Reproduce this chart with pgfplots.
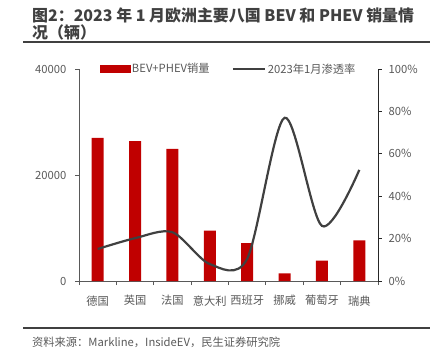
\documentclass[border=0pt]{standalone}
\usepackage{pgfplots}
\pgfplotsset{compat=1.18}
\usepackage{fontspec}
\setmainfont{Noto Sans CJK SC}
\definecolor{barred}{HTML}{C00000}
\definecolor{linegray}{HTML}{404040}
\definecolor{txtgray}{HTML}{595959}
\begin{document}
\begin{tikzpicture}
\useasboundingbox (0bp,0bp) rectangle (436bp,-351bp);
\node[anchor=base west, font=\fontsize{16}{18}\selectfont\bfseries, text=linegray, inner sep=0] at (32bp,-21bp) {图2：2023 年 1 月欧洲主要八国 BEV 和 PHEV 销量情};
\node[anchor=base west, font=\fontsize{16}{18}\selectfont\bfseries, text=linegray, inner sep=0] at (32bp,-38bp) {况（辆）};
\draw[linegray, line width=1.2bp] (23bp,-42bp) -- (430bp,-42bp);
\draw[linegray, line width=1.2bp] (23bp,-328bp) -- (430bp,-328bp);
\node[anchor=west, font=\fontsize{11.3}{13}\selectfont, text=txtgray, inner sep=0] at (32bp,-342bp) {资料来源：Markline，InsideEV，民生证券研究院};

\begin{axis}[at={(79bp,-281bp)}, anchor=south west, scale only axis,
  width=299bp, height=212bp,
  xmin=-0.5, xmax=7.5, ymin=0, ymax=40000,
  axis x line*=bottom, axis y line*=left,
  axis line style={txtgray, line width=0.8bp},
  xtick={0,...,7},
  xticklabels={德国,英国,法国,意大利,西班牙,挪威,葡萄牙,瑞典},
  minor xtick={-0.5,0.5,...,7.5},
  major x tick style={draw=none},
  minor tick style={txtgray, line width=0.8bp},
  ytick={0,20000,40000},
  ytick style={txtgray, line width=0.8bp},
  tick align=outside, major tick length=4bp, minor tick length=4bp,
  scaled y ticks=false,
  /pgf/number format/assume math mode=true,
  /pgf/number format/set thousands separator={},
  ticklabel style={font=\fontsize{11.3}{13}\selectfont, text=txtgray},
  xticklabel style={yshift=-7bp},
  yticklabel style={xshift=-5bp},
  clip=false]
\addplot[ybar, bar width=12bp, fill=barred, draw=none] coordinates {
(0,27000) (1,26400) (2,24950) (3,9500) (4,7170) (5,1450) (6,3830) (7,7680)};
\end{axis}

\begin{axis}[at={(79bp,-281bp)}, anchor=south west, scale only axis,
  width=299bp, height=212bp,
  xmin=-0.5, xmax=7.5, ymin=0, ymax=100,
  axis x line=none, axis y line*=right,
  axis line style={black!85, line width=0.8bp},
  ytick={0,20,...,100},
  yticklabel={\pgfmathprintnumber{\tick}\%},
  ytick style={black!85, line width=0.8bp},
  tick align=outside, major tick length=4bp,
  /pgf/number format/assume math mode=true,
  ticklabel style={font=\fontsize{11.3}{13}\selectfont, text=txtgray},
  yticklabel style={xshift=3bp},
  legend style={at={(0.5,1)}, anchor=center, draw=none, fill=none,
    font=\fontsize{11.3}{13}\selectfont, text=txtgray,
    /tikz/every even column/.append style={column sep=20bp}},
  legend columns=2, legend cell align=left,
  clip=false]
\addlegendimage{legend image code/.code={\fill[barred] (0bp,-3.5bp) rectangle (30bp,3.5bp);}}
\addlegendentry{BEV+PHEV销量}
\addplot[linegray, line width=2.2bp, smooth,
  legend image code/.code={\draw[linegray,line width=2.2bp] (0bp,0bp) -- (32bp,0bp);}]
  coordinates {(0,15.1) (1,20.2) (2,23) (3,8) (4,10.5) (5,77) (6,26) (7,52.4)};
\addlegendentry{2023年1月渗透率}
\end{axis}
\end{tikzpicture}
\end{document}
